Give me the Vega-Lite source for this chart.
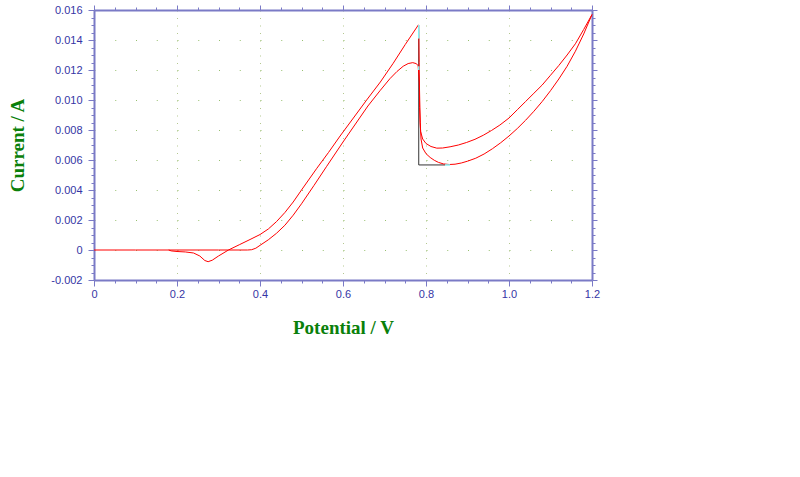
{
  "$schema": "https://vega.github.io/schema/vega-lite/v6.json",
  "width": 498,
  "height": 270,
  "autosize": {"type": "none"},
  "padding": {"left": 94, "top": 10, "right": 208, "bottom": 197},
  "background": "white",
  "config": {
    "view": {"stroke": null},
    "axis": {
      "domainColor": "#7a7ac6",
      "domainWidth": 2,
      "tickColor": "#7a7ac6",
      "tickWidth": 1,
      "labelFont": "Liberation Sans",
      "labelFontSize": 11,
      "labelColor": "#3535a5",
      "labelFlush": false,
      "labelOverlap": false,
      "titleFont": "Liberation Serif",
      "titleFontSize": 19,
      "titleFontWeight": "bold",
      "titleColor": "#0a800a"
    }
  },
  "datasets": {
    "cv": [
      {"scan": "a", "i": 1, "E": 0.0, "I": 0.0},
      {"scan": "a", "i": 2, "E": 0.1, "I": 0.0},
      {"scan": "a", "i": 3, "E": 0.2, "I": 0.0},
      {"scan": "a", "i": 4, "E": 0.3, "I": 0.0},
      {"scan": "a", "i": 5, "E": 0.37, "I": 0.0},
      {"scan": "a", "i": 6, "E": 0.38, "I": 0.00002},
      {"scan": "a", "i": 7, "E": 0.39, "I": 0.00012},
      {"scan": "a", "i": 8, "E": 0.40, "I": 0.00031},
      {"scan": "a", "i": 9, "E": 0.42, "I": 0.00068},
      {"scan": "a", "i": 10, "E": 0.44, "I": 0.00112},
      {"scan": "a", "i": 11, "E": 0.46, "I": 0.00165},
      {"scan": "a", "i": 12, "E": 0.48, "I": 0.00232},
      {"scan": "a", "i": 13, "E": 0.50, "I": 0.00308},
      {"scan": "a", "i": 14, "E": 0.53, "I": 0.0043},
      {"scan": "a", "i": 15, "E": 0.56, "I": 0.00555},
      {"scan": "a", "i": 16, "E": 0.60, "I": 0.0072},
      {"scan": "a", "i": 17, "E": 0.63, "I": 0.0084},
      {"scan": "a", "i": 18, "E": 0.66, "I": 0.0096},
      {"scan": "a", "i": 19, "E": 0.69, "I": 0.01065},
      {"scan": "a", "i": 20, "E": 0.713, "I": 0.01142},
      {"scan": "a", "i": 21, "E": 0.73, "I": 0.0119},
      {"scan": "a", "i": 22, "E": 0.745, "I": 0.01225},
      {"scan": "a", "i": 23, "E": 0.757, "I": 0.01243},
      {"scan": "a", "i": 24, "E": 0.768, "I": 0.01249},
      {"scan": "a", "i": 25, "E": 0.776, "I": 0.01243},
      {"scan": "a", "i": 26, "E": 0.781, "I": 0.0123},
      {"scan": "a", "i": 27, "E": 0.784, "I": 0.0112},
      {"scan": "a", "i": 28, "E": 0.786, "I": 0.0085},
      {"scan": "a", "i": 29, "E": 0.788, "I": 0.0074},
      {"scan": "a", "i": 30, "E": 0.792, "I": 0.0068},
      {"scan": "a", "i": 31, "E": 0.80, "I": 0.00642},
      {"scan": "a", "i": 32, "E": 0.81, "I": 0.00617},
      {"scan": "a", "i": 33, "E": 0.82, "I": 0.00598},
      {"scan": "a", "i": 34, "E": 0.83, "I": 0.00584},
      {"scan": "a", "i": 35, "E": 0.842, "I": 0.00574},
      {"scan": "a", "i": 36, "E": 0.856, "I": 0.0057},
      {"scan": "a", "i": 37, "E": 0.87, "I": 0.00572},
      {"scan": "a", "i": 38, "E": 0.885, "I": 0.0058},
      {"scan": "a", "i": 39, "E": 0.90, "I": 0.00592},
      {"scan": "a", "i": 40, "E": 0.92, "I": 0.00612},
      {"scan": "a", "i": 41, "E": 0.94, "I": 0.0064},
      {"scan": "a", "i": 42, "E": 0.96, "I": 0.00675},
      {"scan": "a", "i": 43, "E": 0.98, "I": 0.00715},
      {"scan": "a", "i": 44, "E": 1.0, "I": 0.0076},
      {"scan": "a", "i": 45, "E": 1.02, "I": 0.0081},
      {"scan": "a", "i": 46, "E": 1.04, "I": 0.00865},
      {"scan": "a", "i": 47, "E": 1.06, "I": 0.00925},
      {"scan": "a", "i": 48, "E": 1.08, "I": 0.0099},
      {"scan": "a", "i": 49, "E": 1.10, "I": 0.01062},
      {"scan": "a", "i": 50, "E": 1.12, "I": 0.0114},
      {"scan": "a", "i": 51, "E": 1.14, "I": 0.01225},
      {"scan": "a", "i": 52, "E": 1.16, "I": 0.01325},
      {"scan": "a", "i": 53, "E": 1.18, "I": 0.0144},
      {"scan": "a", "i": 54, "E": 1.2, "I": 0.0157},
      {"scan": "b", "i": 55, "E": 1.2, "I": 0.0157},
      {"scan": "b", "i": 56, "E": 1.18, "I": 0.0147},
      {"scan": "b", "i": 57, "E": 1.16, "I": 0.01375},
      {"scan": "b", "i": 58, "E": 1.14, "I": 0.0130},
      {"scan": "b", "i": 59, "E": 1.12, "I": 0.0123},
      {"scan": "b", "i": 60, "E": 1.10, "I": 0.01165},
      {"scan": "b", "i": 61, "E": 1.08, "I": 0.0110},
      {"scan": "b", "i": 62, "E": 1.06, "I": 0.01045},
      {"scan": "b", "i": 63, "E": 1.04, "I": 0.0099},
      {"scan": "b", "i": 64, "E": 1.02, "I": 0.00935},
      {"scan": "b", "i": 65, "E": 1.0, "I": 0.0088},
      {"scan": "b", "i": 66, "E": 0.978, "I": 0.00833},
      {"scan": "b", "i": 67, "E": 0.958, "I": 0.00797},
      {"scan": "b", "i": 68, "E": 0.938, "I": 0.00765},
      {"scan": "b", "i": 69, "E": 0.918, "I": 0.00738},
      {"scan": "b", "i": 70, "E": 0.898, "I": 0.00717},
      {"scan": "b", "i": 71, "E": 0.878, "I": 0.007},
      {"scan": "b", "i": 72, "E": 0.858, "I": 0.00688},
      {"scan": "b", "i": 73, "E": 0.84, "I": 0.0068},
      {"scan": "b", "i": 74, "E": 0.826, "I": 0.00679},
      {"scan": "b", "i": 75, "E": 0.812, "I": 0.0069},
      {"scan": "b", "i": 76, "E": 0.80, "I": 0.0071},
      {"scan": "b", "i": 77, "E": 0.792, "I": 0.0074},
      {"scan": "b", "i": 78, "E": 0.787, "I": 0.0079},
      {"scan": "b", "i": 79, "E": 0.7845, "I": 0.0095},
      {"scan": "b", "i": 80, "E": 0.7835, "I": 0.0125},
      {"scan": "b", "i": 81, "E": 0.7825, "I": 0.0150},
      {"scan": "b", "i": 82, "E": 0.7815, "I": 0.0150},
      {"scan": "b", "i": 83, "E": 0.75, "I": 0.0137},
      {"scan": "b", "i": 84, "E": 0.721, "I": 0.01245},
      {"scan": "b", "i": 85, "E": 0.69, "I": 0.0112},
      {"scan": "b", "i": 86, "E": 0.657, "I": 0.0100},
      {"scan": "b", "i": 87, "E": 0.625, "I": 0.0088},
      {"scan": "b", "i": 88, "E": 0.593, "I": 0.0076},
      {"scan": "b", "i": 89, "E": 0.565, "I": 0.0065},
      {"scan": "b", "i": 90, "E": 0.537, "I": 0.00545},
      {"scan": "b", "i": 91, "E": 0.50, "I": 0.0040},
      {"scan": "b", "i": 92, "E": 0.48, "I": 0.0032},
      {"scan": "b", "i": 93, "E": 0.46, "I": 0.0025},
      {"scan": "b", "i": 94, "E": 0.44, "I": 0.0019},
      {"scan": "b", "i": 95, "E": 0.42, "I": 0.0014},
      {"scan": "b", "i": 96, "E": 0.40, "I": 0.00103},
      {"scan": "b", "i": 97, "E": 0.376, "I": 0.0007},
      {"scan": "b", "i": 98, "E": 0.35, "I": 0.00035},
      {"scan": "b", "i": 99, "E": 0.324, "I": 0.0},
      {"scan": "b", "i": 100, "E": 0.30, "I": -0.0004},
      {"scan": "b", "i": 101, "E": 0.285, "I": -0.00068},
      {"scan": "b", "i": 102, "E": 0.275, "I": -0.00078},
      {"scan": "b", "i": 103, "E": 0.267, "I": -0.0007},
      {"scan": "b", "i": 104, "E": 0.255, "I": -0.0004},
      {"scan": "b", "i": 105, "E": 0.24, "I": -0.0002},
      {"scan": "b", "i": 106, "E": 0.22, "I": -0.00013},
      {"scan": "b", "i": 107, "E": 0.20, "I": -0.0001},
      {"scan": "b", "i": 108, "E": 0.186, "I": -0.00006},
      {"scan": "b", "i": 109, "E": 0.18, "I": 0.0}
    ],
    "guide": [
      {"i": 1, "E": 0.7825, "I": 0.0141},
      {"i": 2, "E": 0.7825, "I": 0.00567},
      {"i": 3, "E": 0.846, "I": 0.00567}
    ],
    "cyan": [
      {"seg": "a", "i": 1, "E": 0.7825, "I": 0.0150},
      {"seg": "a", "i": 2, "E": 0.7825, "I": 0.0141},
      {"seg": "b", "i": 3, "E": 0.7825, "I": 0.01225},
      {"seg": "b", "i": 4, "E": 0.7825, "I": 0.0120},
      {"seg": "c", "i": 5, "E": 0.846, "I": 0.00567},
      {"seg": "c", "i": 6, "E": 0.858, "I": 0.00567}
    ]
  },
  "layer": [
    {
      "data": {"name": "guide"},
      "mark": {"type": "line", "color": "#333333", "strokeWidth": 1},
      "encoding": {
        "order": {"field": "i", "type": "quantitative"},
        "x": {
          "field": "E", "type": "quantitative",
          "scale": {"domain": [0, 1.2], "nice": false, "zero": false},
          "axis": {
            "orient": "bottom",
            "values": [0, 0.2, 0.4, 0.6, 0.8, 1.0, 1.2],
            "labelExpr": "datum.value == 0 ? '0' : format(datum.value, '.1f')",
            "tickSize": 6,
            "labelPadding": 2,
            "grid": true,
            "gridColor": "#b4c890",
            "gridDash": [1, 6.5],
            "gridWidth": 1,
            "title": "Potential / V",
            "titlePadding": 19
          }
        },
        "y": {
          "field": "I", "type": "quantitative",
          "scale": {"domain": [-0.002, 0.016], "nice": false, "zero": false},
          "axis": {
            "orient": "left",
            "values": [-0.002, 0, 0.002, 0.004, 0.006, 0.008, 0.01, 0.012, 0.014, 0.016],
            "labelExpr": "datum.value == 0 ? '0' : replace(format(datum.value, '.3f'), '\u2212', '-')",
            "tickSize": 6,
            "labelPadding": 6,
            "grid": true,
            "gridColor": "#98c070",
            "gridDash": [1, 19.75],
            "gridWidth": 1,
            "title": "Current / A",
            "titlePadding": 23
          }
        }
      }
    },
    {
      "data": {"name": "cv"},
      "transform": [{"filter": "datum.scan == 'a'"}],
      "mark": {"type": "line", "color": "#ff0000", "strokeWidth": 1},
      "encoding": {
        "order": {"field": "i", "type": "quantitative"},
        "x": {
          "field": "E", "type": "quantitative",
          "scale": {"domain": [0, 1.2], "nice": false, "zero": false},
          "axis": {
            "orient": "bottom",
            "values": [0.05, 0.1, 0.15, 0.25, 0.3, 0.35, 0.45, 0.5, 0.55, 0.65, 0.7, 0.75, 0.85, 0.9, 0.95, 1.05, 1.1, 1.15],
            "labels": false, "domain": false, "grid": false, "tickSize": 3, "title": null
          }
        },
        "y": {
          "field": "I", "type": "quantitative",
          "scale": {"domain": [-0.002, 0.016], "nice": false, "zero": false},
          "axis": {
            "orient": "left",
            "values": [-0.0015, -0.001, -0.0005, 0.0005, 0.001, 0.0015, 0.0025, 0.003, 0.0035, 0.0045, 0.005, 0.0055, 0.0065, 0.007, 0.0075, 0.0085, 0.009, 0.0095, 0.0105, 0.011, 0.0115, 0.0125, 0.013, 0.0135, 0.0145, 0.015, 0.0155],
            "labels": false, "domain": false, "grid": false, "tickSize": 3, "title": null
          }
        }
      }
    },
    {
      "data": {"name": "cv"},
      "transform": [{"filter": "datum.scan == 'b'"}],
      "mark": {"type": "line", "color": "#ff0000", "strokeWidth": 1},
      "encoding": {
        "order": {"field": "i", "type": "quantitative"},
        "x": {
          "field": "E", "type": "quantitative",
          "scale": {"domain": [0, 1.2], "nice": false, "zero": false},
          "axis": {
            "orient": "top",
            "values": [0, 0.2, 0.4, 0.6, 0.8, 1.0, 1.2],
            "labels": false, "grid": false, "tickSize": 5, "title": null
          }
        },
        "y": {
          "field": "I", "type": "quantitative",
          "scale": {"domain": [-0.002, 0.016], "nice": false, "zero": false},
          "axis": {
            "orient": "right",
            "values": [-0.002, 0, 0.002, 0.004, 0.006, 0.008, 0.01, 0.012, 0.014, 0.016],
            "labels": false, "grid": false, "tickSize": 5, "title": null
          }
        }
      }
    },
    {
      "data": {"name": "cyan"},
      "mark": {"type": "line", "color": "#7ff5f5", "strokeWidth": 1.5},
      "encoding": {
        "order": {"field": "i", "type": "quantitative"},
        "detail": {"field": "seg", "type": "nominal"},
        "x": {
          "field": "E", "type": "quantitative",
          "scale": {"domain": [0, 1.2], "nice": false, "zero": false},
          "axis": {
            "orient": "top",
            "values": [0.05, 0.1, 0.15, 0.25, 0.3, 0.35, 0.45, 0.5, 0.55, 0.65, 0.7, 0.75, 0.85, 0.9, 0.95, 1.05, 1.1, 1.15],
            "labels": false, "domain": false, "grid": false, "tickSize": 3, "title": null
          }
        },
        "y": {
          "field": "I", "type": "quantitative",
          "scale": {"domain": [-0.002, 0.016], "nice": false, "zero": false},
          "axis": {
            "orient": "right",
            "values": [-0.0015, -0.001, -0.0005, 0.0005, 0.001, 0.0015, 0.0025, 0.003, 0.0035, 0.0045, 0.005, 0.0055, 0.0065, 0.007, 0.0075, 0.0085, 0.009, 0.0095, 0.0105, 0.011, 0.0115, 0.0125, 0.013, 0.0135, 0.0145, 0.015, 0.0155],
            "labels": false, "domain": false, "grid": false, "tickSize": 3, "title": null
          }
        }
      }
    }
  ],
  "resolve": {
    "scale": {"x": "shared", "y": "shared"},
    "axis": {"x": "independent", "y": "independent"}
  }
}
